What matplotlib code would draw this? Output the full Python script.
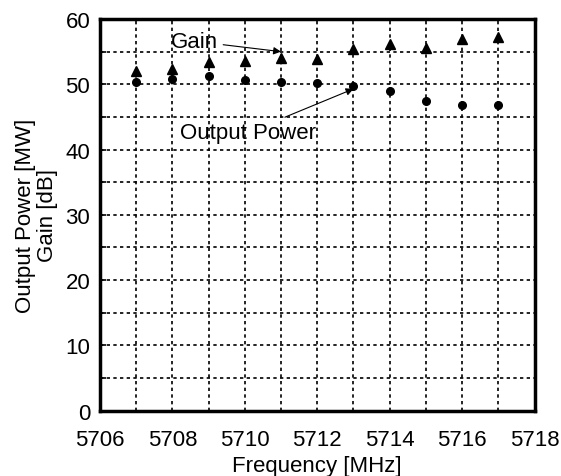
import matplotlib.pyplot as plt
import numpy as np

plt.rcParams['font.family'] = ['Liberation Sans', 'DejaVu Sans']

# data
freq = [5707, 5708, 5709, 5710, 5711, 5712, 5713, 5714, 5715, 5716, 5717]
gain = [52.1, 52.4, 53.4, 53.5, 54.0, 53.9, 55.4, 56.2, 55.5, 57.0, 57.2]
power = [50.3, 50.8, 51.2, 50.7, 50.3, 50.2, 49.7, 48.9, 47.5, 46.8, 46.8]

x_ticks = [5706, 5708, 5710, 5712, 5714, 5716, 5718]
y_ticks = [0, 10, 20, 30, 40, 50, 60]

fig = plt.figure(figsize=(5.61, 4.77), dpi=100)
ax = fig.add_axes([0.178, 0.137, 0.775, 0.821])

ax.plot(freq, gain, linestyle='none', marker='^', color='black', markersize=6.5)
ax.plot(freq, power, linestyle='none', marker='o', color='black', markersize=5.5)

ax.set_xlim(5706, 5718)
ax.set_ylim(0, 60)
ax.set_xticks(x_ticks)
ax.set_yticks(y_ticks)
ax.set_xticks(np.arange(5707, 5718, 1), minor=True)
ax.set_yticks(np.arange(5, 60, 10), minor=True)
ax.grid(True, which='both', color='black', linestyle=(0, (2, 2)), linewidth=1.2)
ax.tick_params(which='both', direction='in', length=4, width=1.2, labelsize=16)
ax.tick_params(axis='x', which='both', length=0, pad=13)
ax.tick_params(axis='y', pad=7)
for s in ax.spines.values():
    s.set_linewidth(2.5)

ax.set_xlabel('Frequency [MHz]', fontsize=16, labelpad=4)
ax.set_ylabel('Output Power [MW]\nGain [dB]', fontsize=16, labelpad=5, linespacing=1.1)

ax.annotate('Gain', xy=(5711.0, 55.0), xytext=(5707.95, 56.6), fontsize=16,
            va='center', ha='left',
            arrowprops=dict(arrowstyle='-|>', color='black', lw=0.8, shrinkA=2, shrinkB=0,
                            mutation_scale=11))
ax.annotate('Output Power', xy=(5713.0, 49.3), xytext=(5708.2, 42.6), fontsize=16,
            va='center', ha='left',
            arrowprops=dict(arrowstyle='-|>', color='black', lw=0.8, shrinkA=4, shrinkB=0,
                            mutation_scale=11))

fig.savefig('out.png', dpi=100)
